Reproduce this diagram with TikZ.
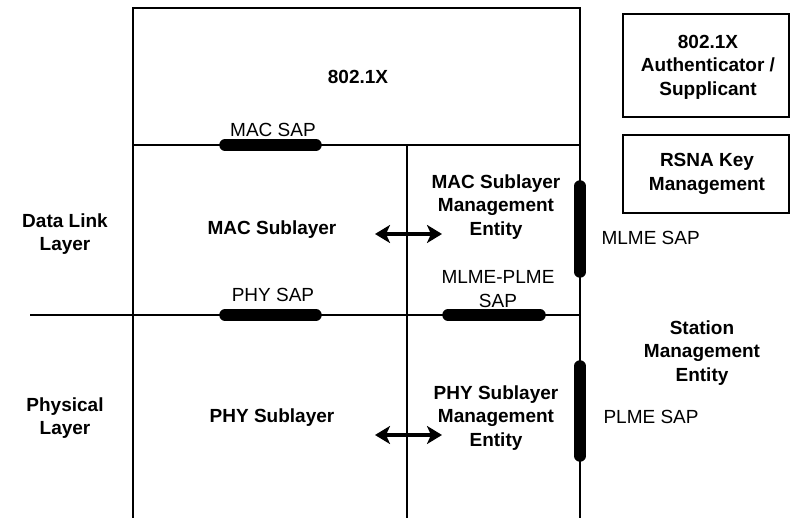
\documentclass[tikz,border=0pt]{standalone}
\usepackage{fontspec}
\setmainfont{Liberation Sans}
\usetikzlibrary{arrows.meta,positioning}

\begin{document}
\begin{tikzpicture}[x=1pt,y=-1pt,>={Stealth[length=15pt,width=18pt,inset=4pt]}]
  \tikzstyle{mytitle}=[font=\fontsize{19}{23.5}\selectfont\bfseries, align=center]
  \tikzstyle{mysap}=[font=\fontsize{19}{24}\selectfont, align=center]
  \tikzstyle{mybox}=[draw, line width=2pt, inner sep=0pt]
  \tikzstyle{myline}=[line width=2pt]
  \tikzstyle{mybar}=[line width=11.5pt, line cap=round]
  \tikzstyle{myarr}=[<->, line width=3.5pt]
  \useasboundingbox (0,0) rectangle (790,518);
  % layer frame
  \draw[myline] (133,518) -- (133,8) -- (580,8) -- (580,518);
  \draw[myline] (133,145) -- (580,145);
  \draw[myline] (407,145) -- (407,518);
  \draw[myline] (30,315) -- (580,315);
  % 802.1X
  \node[mytitle] (dotx) at (358,77) {802.1X};
  \node[mybox, minimum width=166pt, minimum height=103pt] (authbox) at (706,65.5) {};
  \node[mytitle] (auth) at (708,67) {802.1X\\Authenticator /\\Supplicant};
  \node[mybox, minimum width=166pt, minimum height=78pt] (rsnabox) at (706,174) {};
  \node[mytitle] (rsna) at (707,174) {RSNA Key\\Management};
  % MAC
  \node[mytitle] (dll) at (65,234) {Data Link\\Layer};
  \node[mytitle] (macsub) at (272,230) {MAC Sublayer};
  \node[mytitle] (mlme) at (496,207) {MAC Sublayer\\Management\\Entity};
  \coordinate (macL) at (375,234);
  \coordinate (macR) at (442,234);
  \draw[myarr] (macL) -- (macR);
  % PHY
  \node[mytitle] (phyl) at (65,418) {Physical\\Layer};
  \node[mytitle] (physub) at (272,418) {PHY Sublayer};
  \node[mytitle] (plme) at (496,418) {PHY Sublayer\\Management\\Entity};
  \coordinate (phyL) at (375,435);
  \coordinate (phyR) at (442,435);
  \draw[myarr] (phyL) -- (phyR);
  % station management
  \node[mytitle] (sme) at (702,353) {Station\\Management\\Entity};
  % SAPs
  \coordinate (macsapA) at (225,145);
  \coordinate (macsapB) at (316,145);
  \draw[mybar] (macsapA) -- (macsapB);
  \node[mysap] (macsap) at (273,130) {MAC SAP};
  \coordinate (physapA) at (225,315);
  \coordinate (physapB) at (316,315);
  \draw[mybar] (physapA) -- (physapB);
  \node[mysap] (physap) at (273,295) {PHY SAP};
  \coordinate (mpsapA) at (448,315);
  \coordinate (mpsapB) at (540,315);
  \draw[mybar] (mpsapA) -- (mpsapB);
  \node[mysap] (mpsap) at (498,289) {MLME-PLME\\SAP};
  \coordinate (mlsapA) at (580,186);
  \coordinate (mlsapB) at (580,272);
  \draw[mybar] (mlsapA) -- (mlsapB);
  \node[mysap, anchor=west] (mlsap) at (598,238) {MLME SAP};
  \coordinate (plsapA) at (580,366);
  \coordinate (plsapB) at (580,456);
  \draw[mybar] (plsapA) -- (plsapB);
  \node[mysap, anchor=west] (plsap) at (600,417) {PLME SAP};
\end{tikzpicture}
\end{document}
